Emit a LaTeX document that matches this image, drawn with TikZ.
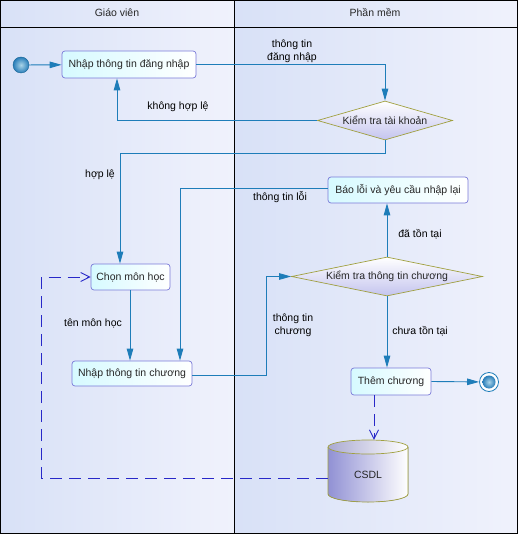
\documentclass[tikz,border=0pt]{standalone}
\usepackage{fontspec}
\setmainfont{Liberation Sans}
\usetikzlibrary{arrows.meta,shapes.geometric}
\definecolor{edgecol}{RGB}{30,125,185}
\definecolor{boxborder}{RGB}{122,122,216}
\definecolor{boxfill}{RGB}{214,250,255}
\definecolor{decborder}{RGB}{160,160,64}
\definecolor{decfill}{RGB}{196,196,238}
\definecolor{dashcol}{RGB}{40,40,200}
\definecolor{laneL}{RGB}{216,225,247}
\definecolor{laneR}{RGB}{240,242,252}
\definecolor{cylL}{RGB}{145,145,212}
\definecolor{capL}{RGB}{170,170,210}
\tikzset{
  act/.style={draw=boxborder, rounded corners=3pt, left color=boxfill, right color=white,
    text=black!85, inner sep=0pt, line width=0.7pt},
  dec/.style={diamond, draw=decborder, top color=white, bottom color=decfill,
    text=black!85, inner sep=0pt, line width=0.7pt},
  conn/.style={draw=edgecol, line width=0.9pt, -{Triangle[length=12pt,width=6.5pt]}},
  dep/.style={draw=dashcol, line width=0.9pt, dash pattern=on 12pt off 7pt,
    -{Straight Barb[length=9pt,width=9pt]}},
  lbl/.style={text=black, align=center, inner sep=0pt, font=\fontsize{10.5}{13}\selectfont},
}
\begin{document}
\begin{tikzpicture}[x=1pt,y=-1pt,font=\fontsize{10.5}{13}\selectfont]
\useasboundingbox (0,0) rectangle (518,534);
% lanes
\shade[left color=laneL, right color=laneR] (0,0) rectangle (234,534);
\shade[left color=laneL, right color=laneR] (234,0) rectangle (518,534);
\draw[black, line width=0.8pt] (0.5,0.5) rectangle (517,533);
\draw[black, line width=0.8pt] (0,27) -- (518,27);
\draw[black, line width=0.8pt] (234,0) -- (234,534);
\node[lbl, text=black!85] (h1) at (117,13) {Giáo viên};
\node[lbl, text=black!85] (h2) at (375,13) {Phần mềm};

% nodes
\node[circle, minimum size=16pt, inner sep=0pt, draw=edgecol!80!black, inner color={rgb,255:red,170;green,212;blue,232}, outer color={rgb,255:red,40;green,125;blue,185}] (start) at (21,65) {};
\node[act, minimum width=134pt, minimum height=27pt] (b1) at (129,64.5) {Nhập thông tin đăng nhập};
\node[dec, aspect=3.5, minimum width=135pt, minimum height=39pt] (d1) at (385,120.5) {Kiểm tra tài khoản};
\node[act, minimum width=140pt, minimum height=26pt] (err) at (398,190) {Báo lỗi và yêu cầu nhập lại};
\node[dec, aspect=5, minimum width=191pt, minimum height=39pt] (d2) at (387,276.5) {Kiểm tra thông tin chương};
\node[act, minimum width=79pt, minimum height=26pt] (b2) at (130.5,277) {Chọn môn học};
\node[act, minimum width=120pt, minimum height=25pt] (b3) at (132,373.5) {Nhập thông tin chương};
\node[act, minimum width=80pt, minimum height=27pt] (b4) at (391,381.5) {Thêm chương};
\node[circle, minimum size=19pt, inner sep=0pt, draw=edgecol, line width=0.8pt, fill=white] (end) at (489,382) {};
\shade[inner color={rgb,255:red,170;green,212;blue,232}, outer color={rgb,255:red,40;green,125;blue,185}] (end.center) circle[radius=6.5pt];

% database
\fill[left color=cylL, right color=white] (328,447) -- (328,494) arc[start angle=180,end angle=360,x radius=40pt,y radius=8pt] -- (408,447) -- cycle;
\draw[decborder, line width=0.7pt] (328,447) -- (328,494) arc[start angle=180,end angle=360,x radius=40pt,y radius=8pt] -- (408,447);
\draw[decborder, line width=0.7pt, left color=capL, right color=white] (368,447) ellipse[x radius=40pt, y radius=7pt];
\node[minimum width=80pt, minimum height=62pt, inner sep=0pt] (db) at (368,471) {};
\node[lbl, text=black!85] (dbtext) at (368,475) {CSDL};

% connectors
\draw[conn] (start) -- (b1);
\draw[conn] (b1.east) -| (d1.north);
\draw[conn] (d1.west) -| ([xshift=-12pt]b1.south);
\draw[conn] (d1.south) -- ++(0,13) -| ([xshift=-10.5pt]b2.north);
\draw[conn] (d2.north) -- (d2.north |- err.south);
\draw[conn] ([yshift=2pt]err.west) -| ([xshift=48pt]b3.north);
\draw[conn] ([xshift=-0.5pt]b2.south) -- ([xshift=-0.5pt]b2.south |- b3.north);
\draw[conn] ([yshift=-2pt]b3.east) -- ++(74,0) |- (d2.west);
\draw[conn] (d2.south) -- (d2.south |- b4.north);
\draw[conn] (b4.east) -- (end);
\draw[dep] ([xshift=-17pt]b4.south) -- ([xshift=-17pt]b4.south |- db.north);
\draw[dep] ([yshift=-7pt]db.west) -| ([xshift=-49pt]b2.west) -- (b2.west);

% labels
\node[lbl] (l1) at (292,51.5) {thông tin\\đăng nhập};
\node[lbl] (l2) at (178,107) {không hợp lệ};
\node[lbl] (l3) at (100,175) {hợp lệ};
\node[lbl] (l4) at (280,197) {thông tin lỗi};
\node[lbl] (l5) at (420,234) {đã tồn tại};
\node[lbl] (l6) at (93,323) {tên môn học};
\node[lbl] (l7) at (293,325) {thông tin\\chương};
\node[lbl] (l8) at (420,331) {chưa tồn tại};
\end{tikzpicture}
\end{document}
